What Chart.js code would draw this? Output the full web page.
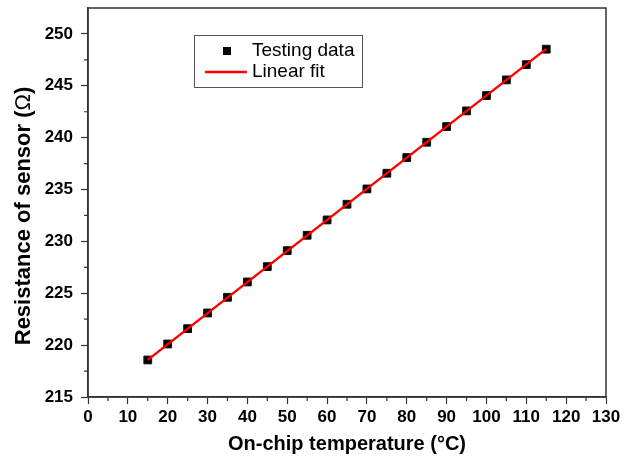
<!DOCTYPE html>
<html>
<head>
<meta charset="utf-8">
<script src="https://cdn.jsdelivr.net/npm/chart.js@4"></script>
<style>
  html, body { margin: 0; padding: 0; background: #fff; }
  canvas { display: block; }
</style>
</head>
<body>
<canvas id="myChart" width="624" height="457"></canvas>
<script>
const temps = [15, 20, 25, 30, 35, 40, 45, 50, 55, 60, 65, 70, 75, 80, 85, 90, 95, 100, 105, 110, 115];
const resist = [218.57, 220.11, 221.59, 223.10, 224.61, 226.09, 227.57, 229.11, 230.59, 232.07, 233.58,
                235.06, 236.57, 238.08, 239.56, 241.07, 242.58, 244.06, 245.57, 247.04, 248.53];
// linear fit end points
const fitX = [15, 115];
const fitY = [218.58, 248.56];
// axis ticks
const xMajor = [0, 10, 20, 30, 40, 50, 60, 70, 80, 90, 100, 110, 120, 130];
const xMinor = [5, 15, 25, 35, 45, 55, 65, 75, 85, 95, 105, 115, 125];
const yMajor = [215, 220, 225, 230, 235, 240, 245, 250];
const yMinor = [217.5, 222.5, 227.5, 232.5, 237.5, 242.5, 247.5];

const FONT = "Arial, 'Liberation Sans', sans-serif";
const AXIS_COLOR = '#333';

// frame + minor ticks
const framePlugin = {
    id: 'frame',
    afterDraw(chart) {
        const ctx = chart.ctx;
        const a = chart.chartArea;
        const xs = chart.scales.x, ys = chart.scales.y;
        ctx.save();
        ctx.strokeStyle = AXIS_COLOR;
        ctx.lineWidth = 1.5;
        ctx.strokeRect(a.left, a.top, a.right - a.left, a.bottom - a.top);
        ctx.lineWidth = 1.2;
        ctx.beginPath();
        xMinor.forEach(v => {
            const px = xs.getPixelForValue(v);
            ctx.moveTo(px, a.bottom);
            ctx.lineTo(px, a.bottom + 4);
        });
        yMinor.forEach(v => {
            const py = ys.getPixelForValue(v);
            ctx.moveTo(a.left, py);
            ctx.lineTo(a.left - 4, py);
        });
        ctx.stroke();
        ctx.restore();
    }
};

// y title: bold text with a regular omega, sitting a bit below the axis middle
const yTitlePlugin = {
    id: 'yTitle',
    afterDraw(chart) {
        const ctx = chart.ctx;
        const parts = [
            ['Resistance of sensor (', 'bold 22px ' + FONT],
            ['Ω', '22px ' + FONT],
            [')', 'bold 22px ' + FONT]
        ];
        ctx.save();
        let total = 0;
        parts.forEach(p => { ctx.font = p[1]; total += ctx.measureText(p[0]).width; });
        ctx.translate(23.5, 216);
        ctx.rotate(-Math.PI / 2);
        ctx.fillStyle = '#000';
        ctx.textBaseline = 'middle';
        let x = -total / 2;
        parts.forEach(p => {
            ctx.font = p[1];
            ctx.fillText(p[0], x, 0);
            x += ctx.measureText(p[0]).width;
        });
        ctx.restore();
    }
};

// legend box inside the plot
const legendPlugin = {
    id: 'boxLegend',
    afterDraw(chart) {
        const ctx = chart.ctx;
        const bx = 194, by = 35, bw = 168, bh = 52;
        ctx.save();
        ctx.fillStyle = '#fff';
        ctx.fillRect(bx, by, bw, bh);
        ctx.strokeStyle = '#555';
        ctx.lineWidth = 1;
        ctx.strokeRect(bx + 0.5, by + 0.5, bw, bh);
        ctx.fillStyle = '#000';
        ctx.fillRect(223, 47, 8, 8);
        ctx.strokeStyle = 'red';
        ctx.lineWidth = 2.5;
        ctx.beginPath();
        ctx.moveTo(205, 72);
        ctx.lineTo(247, 72);
        ctx.stroke();
        ctx.fillStyle = '#000';
        ctx.font = '19px ' + FONT;
        ctx.textBaseline = 'middle';
        ctx.fillText('Testing data', 252, 51);
        ctx.fillText('Linear fit', 252, 72);
        ctx.restore();
    }
};

var ctx = document.getElementById('myChart');
var chart = new Chart(ctx, {
    type: 'scatter',
    data: {
        datasets: [
            {
                type: 'line',
                label: 'Linear fit',
                data: fitX.map((x, i) => ({ x: x, y: fitY[i] })),
                borderColor: 'red',
                borderWidth: 2.5,
                pointRadius: 0,
                fill: false,
                order: 0
            },
            {
                label: 'Testing data',
                data: temps.map((t, i) => ({ x: t, y: resist[i] })),
                pointStyle: 'rect',
                pointRadius: 5.5,
                backgroundColor: '#000',
                borderColor: '#111',
                borderWidth: 1,
                order: 1
            }
        ]
    },
    options: {
        responsive: false,
        animation: false,
        layout: { padding: { top: 8, right: 18, left: 0, bottom: 0 } },
        scales: {
            x: {
                type: 'linear',
                min: 0,
                max: 130,
                afterFit: s => { s.height = 60; s.paddingLeft = 0; s.paddingRight = 0; },
                afterBuildTicks: s => { s.ticks = xMajor.map(v => ({ value: v })); },
                grid: { drawOnChartArea: false, tickLength: 7, tickColor: AXIS_COLOR, tickWidth: 1.2 },
                border: { color: AXIS_COLOR, width: 1.5 },
                ticks: {
                    color: '#000',
                    padding: 3,
                    maxRotation: 0,
                    autoSkip: false,
                    font: { family: FONT, size: 17, weight: 'bold' }
                },
                title: {
                    display: true,
                    text: 'On-chip temperature (°C)',
                    color: '#000',
                    padding: { top: 0, bottom: 1 },
                    font: { family: FONT, size: 20, weight: 'bold' }
                }
            },
            y: {
                type: 'linear',
                min: 215,
                max: 252.5,
                afterFit: s => { s.width = 88; s.paddingTop = 0; s.paddingBottom = 0; },
                afterBuildTicks: s => { s.ticks = yMajor.map(v => ({ value: v })); },
                grid: { drawOnChartArea: false, tickLength: 7, tickColor: AXIS_COLOR, tickWidth: 1.2 },
                border: { color: AXIS_COLOR, width: 1.5 },
                ticks: {
                    color: '#000',
                    padding: 8,
                    autoSkip: false,
                    font: { family: FONT, size: 17, weight: 'bold' }
                },
                title: { display: false }
            }
        },
        plugins: {
            legend: { display: false },
            tooltip: { enabled: false }
        }
    },
    plugins: [framePlugin, yTitlePlugin, legendPlugin]
});
</script>
</body>
</html>
